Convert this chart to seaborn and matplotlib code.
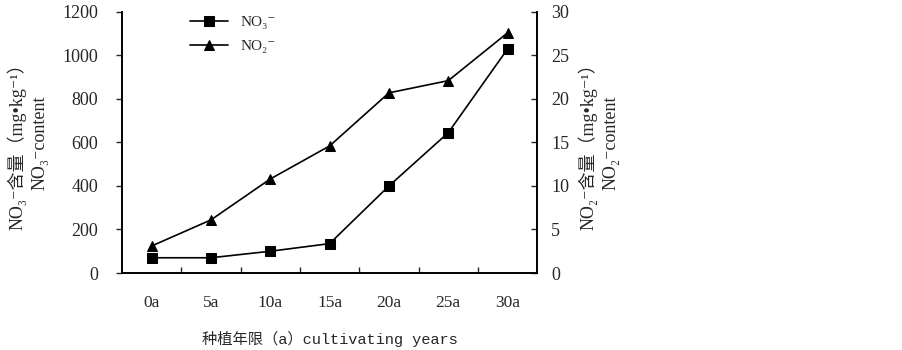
import matplotlib
matplotlib.use("Agg")
import matplotlib.pyplot as plt
import seaborn as sns
import pandas as pd
from matplotlib.ticker import FixedLocator

# data
years = ["0a", "5a", "10a", "15a", "20a", "25a", "30a"]
no3 = [70, 70, 100, 135, 400, 645, 1030]       # mg/kg, left axis
no2 = [3.1, 6.1, 10.8, 14.6, 20.7, 22.1, 27.6]  # mg/kg, right axis

df = pd.DataFrame({"year": years, "no3": no3, "no2": no2})

sns.set_style("ticks")
serif = ["Liberation Serif", "DejaVu Serif", "Noto Sans CJK SC"]
plt.rcParams["font.family"] = serif
plt.rcParams["font.size"] = 11

fig = plt.figure(figsize=(9.03, 3.5), dpi=100)
ax = fig.add_axes([0.135, 0.22, 0.46, 0.746])
ax2 = ax.twinx()

sns.lineplot(data=df, x="year", y="no3", ax=ax, color="black", lw=1.2,
             marker="s", markersize=7, markeredgecolor="black", label="NO₃⁻", legend=False)
sns.lineplot(data=df, x="year", y="no2", ax=ax2, color="black", lw=1.2,
             marker="^", markersize=7, markeredgecolor="black", label="NO₂⁻", legend=False)

ax.set_xlim(-0.5, len(years) - 0.5)
ax.set_ylim(0, 1200)
ax2.set_ylim(0, 30)
ax.set_yticks(range(0, 1201, 200))
ax2.set_yticks(range(0, 31, 5))

# category boundaries get the tick marks, labels sit in the middle
ax.tick_params(axis="x", which="major", length=0, pad=16, labelsize=12.5)
ax.xaxis.set_minor_locator(FixedLocator([i + 0.5 for i in range(len(years) - 1)]))
ax.tick_params(axis="x", which="minor", direction="in", length=4, width=1)
ax.tick_params(axis="y", direction="out", length=4, width=1, labelsize=13, pad=13)
ax2.tick_params(axis="y", direction="in", length=4, width=1, labelsize=13, pad=10)

for a in (ax, ax2):
    for s in a.spines.values():
        s.set_linewidth(1.2)
        s.set_color("black")
ax.spines["top"].set_visible(False)
ax2.spines["top"].set_visible(False)

ax.set_xlabel("种植年限（a）cultivating years", family=["Liberation Mono", "Noto Sans CJK SC"],
              fontsize=11, labelpad=14)
ax.set_ylabel("NO₃⁻含量（mg•kg⁻¹）\nNO₃⁻content", fontsize=13, labelpad=10, linespacing=1.4)
ax2.set_ylabel("NO₂⁻含量（mg•kg⁻¹）\nNO₂⁻content", fontsize=13, labelpad=6, linespacing=1.4)

h1, l1 = ax.get_legend_handles_labels()
h2, l2 = ax2.get_legend_handles_labels()
ax.legend(h1 + h2, l1 + l2, loc="upper left", bbox_to_anchor=(0.13, 1.04), frameon=False,
          fontsize=11, handlelength=2.5, labelspacing=0.7)

fig.savefig("out.png", dpi=100)
